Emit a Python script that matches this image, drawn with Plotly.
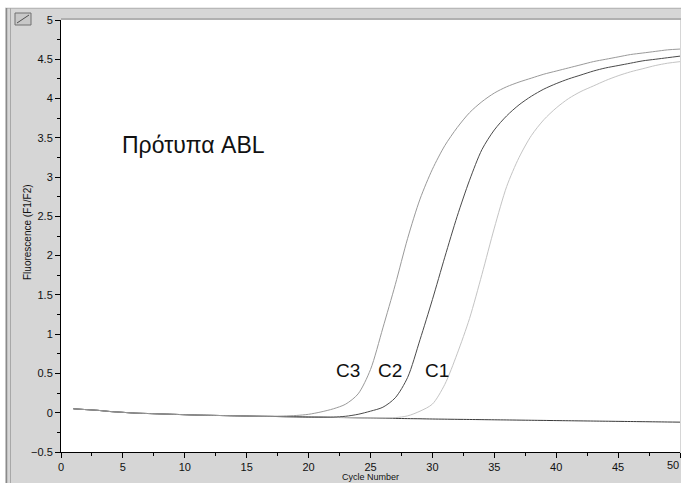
import plotly.graph_objects as go

# Real-time PCR amplification of the ABL standards (LightCycler F1/F2)
cycles = list(range(1, 51))

baseline = [0.05, 0.04, 0.03, 0.015, 0.005, -0.005, -0.01, -0.015, -0.02, -0.025,
            -0.03, -0.033, -0.036, -0.039, -0.042, -0.045, -0.047, -0.05, -0.052, -0.055,
            -0.057, -0.06, -0.062, -0.065, -0.067, -0.07, -0.072, -0.075, -0.077, -0.08,
            -0.082, -0.084, -0.086, -0.088, -0.09, -0.092, -0.094, -0.096, -0.098, -0.1,
            -0.102, -0.104, -0.106, -0.108, -0.11, -0.112, -0.114, -0.116, -0.118, -0.12]

c3 = [0.05, 0.04, 0.03, 0.015, 0.005, -0.005, -0.01, -0.015, -0.02, -0.025,
      -0.03, -0.033, -0.036, -0.039, -0.042, -0.045, -0.045, -0.042, -0.035, -0.02,
      0.01, 0.05, 0.11, 0.24, 0.55, 1.08, 1.63, 2.22, 2.72, 3.10,
      3.40, 3.63, 3.82, 3.96, 4.07, 4.15, 4.21, 4.26, 4.31, 4.35,
      4.39, 4.43, 4.47, 4.50, 4.53, 4.56, 4.58, 4.60, 4.62, 4.63]

c2 = [0.05, 0.04, 0.03, 0.015, 0.005, -0.005, -0.01, -0.015, -0.02, -0.025,
      -0.03, -0.033, -0.036, -0.039, -0.042, -0.045, -0.047, -0.05, -0.052, -0.055,
      -0.056, -0.055, -0.045, -0.02, 0.02, 0.07, 0.19, 0.45, 0.93, 1.44,
      1.98, 2.50, 2.96, 3.35, 3.60, 3.78, 3.92, 4.03, 4.12, 4.19,
      4.25, 4.30, 4.35, 4.39, 4.42, 4.45, 4.48, 4.50, 4.52, 4.54]

c1 = [0.05, 0.04, 0.03, 0.015, 0.005, -0.005, -0.01, -0.015, -0.02, -0.025,
      -0.03, -0.033, -0.036, -0.039, -0.042, -0.045, -0.047, -0.05, -0.052, -0.055,
      -0.057, -0.06, -0.062, -0.065, -0.066, -0.066, -0.062, -0.04, 0.02, 0.11,
      0.36, 0.75, 1.20, 1.76, 2.35, 2.88, 3.25, 3.53, 3.73, 3.88,
      4.00, 4.09, 4.16, 4.23, 4.29, 4.34, 4.38, 4.42, 4.45, 4.47]

series = [
    ("NTC", baseline, "#3a3a3a"),
    ("C1", c1, "#c4c4c4"),
    ("C2", c2, "#4a4a4a"),
    ("C3", c3, "#9a9a9a"),
]

FONT = "Liberation Sans, Arial, sans-serif"

fig = go.Figure()
for name, vals, color in series:
    fig.add_trace(go.Scatter(
        x=cycles, y=vals, mode="lines", name=name,
        line=dict(color=color, width=1, shape="spline", smoothing=0.8),
        showlegend=False, hoverinfo="skip",
    ))

tick_font = dict(family=FONT, size=11, color="#111111")

# pixel helpers for the window chrome (plot area spans x 61..680, y 20..452)
def px(x):
    return (x - 61) / 619


def py(y):
    return (452 - y) / 432


fig.update_layout(
    width=681, height=483,
    margin=dict(l=61, r=1, t=20, b=31),
    paper_bgcolor="#d6d6d6",
    plot_bgcolor="#ffffff",
    xaxis=dict(
        range=[0, 50], tickmode="linear", tick0=0, dtick=5,
        ticks="outside", ticklen=5, tickcolor="#000000", tickwidth=1,
        minor=dict(dtick=2.5, ticks="outside", ticklen=3, tickcolor="#000000"),
        showline=True, linecolor="#000000", linewidth=1,
        showgrid=False, zeroline=False, tickfont=tick_font,
    ),
    yaxis=dict(
        range=[-0.5, 5], tickmode="linear", tick0=-0.5, dtick=0.5,
        ticks="outside", ticklen=5, tickcolor="#000000", tickwidth=1,
        minor=dict(dtick=0.25, ticks="outside", ticklen=3, tickcolor="#000000"),
        showline=True, linecolor="#000000", linewidth=1,
        showgrid=False, zeroline=False, tickfont=tick_font,
    ),
    shapes=[
        # window chrome around the plot
        dict(type="rect", xref="paper", yref="paper", x0=px(-5), x1=px(690),
             y0=py(7.5), y1=py(-5), fillcolor="#ffffff", line_width=0, layer="below"),
        dict(type="rect", xref="paper", yref="paper", x0=px(-5), x1=px(5),
             y0=py(490), y1=py(-5), fillcolor="#ffffff", line_width=0, layer="below"),
        dict(type="line", xref="paper", yref="paper", x0=px(6), x1=px(690),
             y0=py(8.5), y1=py(8.5), line=dict(color="#b8b8b8", width=1)),
        dict(type="line", xref="paper", yref="paper", x0=px(61), x1=px(690),
             y0=py(19), y1=py(19), line=dict(color="#b0b0b0", width=2)),
        dict(type="line", xref="paper", yref="paper", x0=px(6.5), x1=px(6.5),
             y0=py(490), y1=py(8), line=dict(color="#8a8a8a", width=1.5)),
        dict(type="line", xref="paper", yref="paper", x0=px(10.5), x1=px(10.5),
             y0=py(490), y1=py(8), line=dict(color="#a8a8a8", width=1)),
        # small chart icon in the corner
        dict(type="rect", xref="paper", yref="paper", x0=px(15), x1=px(31),
             y0=py(25), y1=py(13), fillcolor="#c8c8c8",
             line=dict(color="#707070", width=1)),
        dict(type="line", xref="paper", yref="paper", x0=px(17), x1=px(29),
             y0=py(23), y1=py(15), line=dict(color="#505050", width=1)),
    ],
    annotations=[
        dict(text="Πρότυπα ABL", x=10.7, y=3.41, xref="x", yref="y", showarrow=False,
             font=dict(family=FONT, size=23, color="#111111")),
        dict(text="C3", x=23.2, y=0.54, xref="x", yref="y", showarrow=False,
             font=dict(family=FONT, size=19, color="#111111")),
        dict(text="C2", x=26.6, y=0.54, xref="x", yref="y", showarrow=False,
             font=dict(family=FONT, size=19, color="#111111")),
        dict(text="C1", x=30.4, y=0.54, xref="x", yref="y", showarrow=False,
             font=dict(family=FONT, size=19, color="#111111")),
        # last x tick label, kept inside the window edge
        dict(text="50", x=px(681), y=py(465), xref="paper", yref="paper", showarrow=False,
             xanchor="right", yanchor="middle", font=tick_font),
        dict(text="Fluorescence (F1/F2)", x=px(28), y=py(232), xref="paper", yref="paper",
             textangle=-90, showarrow=False, xanchor="center", yanchor="middle",
             font=dict(family=FONT, size=10, color="#111111")),
        dict(text="Cycle Number", x=0.5, y=py(477.5), xref="paper", yref="paper",
             showarrow=False, xanchor="center", yanchor="middle",
             font=dict(family=FONT, size=9, color="#111111")),
    ],
)

fig.write_html("out.html")
